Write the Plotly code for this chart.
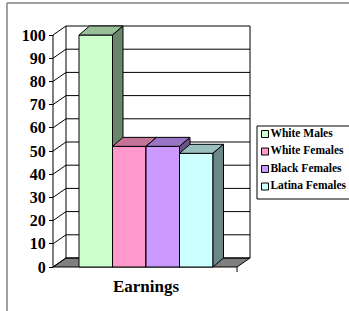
import plotly.graph_objects as go

# ---------------- data ----------------
series = ["White Males", "White Females", "Black Females", "Latina Females"]
values = [100, 52, 52, 49]
category = "Earnings"
y_ticks = [0, 10, 20, 30, 40, 50, 60, 70, 80, 90, 100]

front_colors = ["#CCFFCC", "#FF99CC", "#CC99FF", "#CCFFFF"]
top_colors = ["#99BF99", "#C47399", "#9973C4", "#99BFBF"]
side_colors = ["#6B876B", "#875270", "#6B5287", "#6B8787"]

# ---------------- geometry (pixel layout helpers) ----------------
W, H = 349, 311
PX_X = 33.5          # px per x unit (one bar width)
PX_Y = 2.32          # px per value unit
X0_PX, Y0_PX = 53, 267   # front axis origin in px

bar_start = 0.776
bar_w = 1.0
floor_end = 5.493
bar_dx, bar_dy = 10.5 / PX_X, 9 / PX_Y
wall_dx, wall_dy = 13 / PX_X, 9 / PX_Y

x_range = [-0.1, 5.95]
y_range = [-3, 105]
xdom = [(X0_PX + x_range[0] * PX_X) / W, (X0_PX + x_range[1] * PX_X) / W]
ydom = [(H - (Y0_PX - y_range[0] * PX_Y)) / H, (H - (Y0_PX - y_range[1] * PX_Y)) / H]

serif = "Liberation Serif, Times New Roman, serif"

fig = go.Figure()

def poly(xs, ys, fill, name=None):
    fig.add_trace(go.Scatter(
        x=xs + [xs[0]], y=ys + [ys[0]], mode="lines", fill="toself",
        fillcolor=fill, line=dict(color="black", width=1),
        hoverinfo="skip", showlegend=False, name=name))

# floor
poly([0, floor_end, floor_end + wall_dx, wall_dx],
     [0, 0, wall_dy, wall_dy], "#808080")

# walls / gridlines
lx, ly = [], []
top_v = y_ticks[-1]
for v in y_ticks:
    lx += [wall_dx, floor_end + wall_dx, None]
    ly += [v + wall_dy, v + wall_dy, None]
    lx += [0, wall_dx, None]
    ly += [v, v + wall_dy, None]
lx += [wall_dx, wall_dx, None, floor_end + wall_dx, floor_end + wall_dx, None]
ly += [wall_dy, top_v + wall_dy, None, wall_dy, top_v + wall_dy, None]
lx += [0, 0, None]
ly += [0, top_v, None]
lx += [floor_end, floor_end]
ly += [0, -2.2]
fig.add_trace(go.Scatter(x=lx, y=ly, mode="lines",
                         line=dict(color="black", width=1),
                         hoverinfo="skip", showlegend=False))

# bars
for i, (name, v) in enumerate(zip(series, values)):
    x0 = bar_start + i * bar_w
    x1 = x0 + bar_w
    poly([x0, x1, x1, x0], [0, 0, v, v], front_colors[i], name)
    poly([x0, x1, x1 + bar_dx, x0 + bar_dx], [v, v, v + bar_dy, v + bar_dy], top_colors[i])
    poly([x1, x1, x1 + bar_dx, x1 + bar_dx], [0, v, v + bar_dy, bar_dy], side_colors[i])

# custom legend (on its own hidden axes)
rows = list(range(len(series)))
fig.add_trace(go.Scatter(
    x=[8] * len(series), y=rows, mode="markers+text",
    marker=dict(symbol="square", size=7, color=front_colors,
                line=dict(color="black", width=1)),
    text=series, textposition="middle right",
    textfont=dict(family=serif, size=11.5, color="black", weight="bold"),
    xaxis="x2", yaxis="y2", hoverinfo="skip", showlegend=False, cliponaxis=False))

leg_top, leg_bot = 126, 199
row0, row_gap = 134, 17.5

fig.update_layout(
    width=W, height=H,
    margin=dict(l=0, r=0, t=0, b=0, autoexpand=False),
    paper_bgcolor="white", plot_bgcolor="white",
    showlegend=False,
    xaxis=dict(domain=xdom, range=x_range, showgrid=False, zeroline=False,
               showline=False, tickvals=[bar_start + len(series) * bar_w / 2],
               ticktext=[category], ticks="",
               tickfont=dict(family=serif, size=17, color="black", weight="bold"),
               fixedrange=True),
    yaxis=dict(domain=ydom, range=y_range, anchor="free", position=X0_PX / W,
               showgrid=False, zeroline=False, showline=False,
               tickvals=y_ticks, ticks="outside", ticklen=4, tickcolor="black",
               tickfont=dict(family=serif, size=16, color="black", weight="bold"),
               fixedrange=True),
    xaxis2=dict(domain=[257 / W, 1], range=[0, W - 257], visible=False, anchor="y2"),
    yaxis2=dict(domain=[(H - leg_bot) / H, (H - leg_top) / H],
                range=[(leg_bot - row0) / row_gap, (leg_top - row0) / row_gap],
                visible=False, anchor="x2"),
    shapes=[
        dict(type="rect", xref="paper", yref="paper",
             x0=257 / W, x1=1.1, y0=(H - leg_bot) / H, y1=(H - leg_top) / H,
             line=dict(color="black", width=1)),
        dict(type="line", xref="paper", yref="paper",
             x0=7 / W, x1=1.1, y0=(H - 3) / H, y1=(H - 3) / H,
             line=dict(color="#808080", width=1.5)),
        dict(type="line", xref="paper", yref="paper",
             x0=7 / W, x1=7 / W, y0=-0.1, y1=(H - 3) / H,
             line=dict(color="#808080", width=1.5)),
    ],
)

fig.write_html(
    "out.html",
    config={"displayModeBar": False, "staticPlot": True},
    post_script="document.body.style.margin='0';document.body.style.overflow='hidden';",
)
